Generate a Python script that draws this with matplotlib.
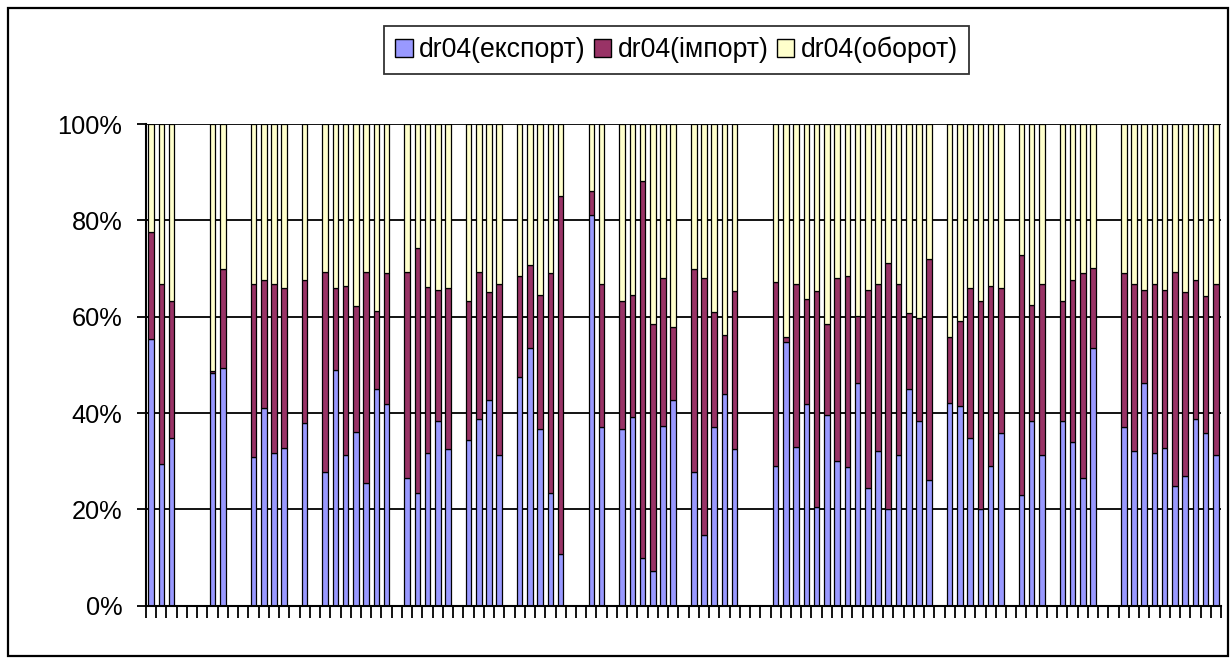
import numpy as np
import matplotlib
matplotlib.use("Agg")
import matplotlib.pyplot as plt
from matplotlib.patches import Rectangle

N = None
# share (%) per category; None = category without data (105 categories)
export_pct = [55.3, 29.5, 34.9, N, N, N, 48.4, 49.3, N, N,
              30.9, 41.0, 31.8, 32.7, N, 37.9, N, 27.8, 48.9, 31.3,
              36.1, 25.5, 44.9, 41.9, N, 26.6, 23.5, 31.8, 38.3, 32.5,
              N, 34.4, 38.8, 42.7, 31.3, N, 47.5, 53.6, 36.6, 23.5,
              10.7, N, N, 81.1, 37.2, N, 36.7, 39.2, 10.0, 7.3,
              37.4, 42.7, N, 27.8, 14.7, 37.0, 43.9, 32.5, N, N,
              N, 29.1, 54.8, 33.0, 41.9, 20.4, 39.6, 30.0, 28.7, 46.2,
              24.4, 32.2, 20.1, 31.3, 44.9, 38.4, 26.1, N, 42.1, 41.5,
              34.9, 20.1, 28.9, 35.8, N, 23.0, 38.3, 31.3, N, 38.3,
              34.0, 26.6, 53.6, N, N, 37.0, 32.2, 46.3, 31.8, 32.7,
              24.8, 27.0, 38.8, 35.8, 31.3]
import_pct = [22.3, 37.3, 28.4, N, N, N, 0.3, 20.5, N, N,
              35.9, 26.6, 35.0, 33.2, N, 29.7, N, 41.5, 17.0, 35.1,
              26.2, 43.8, 16.3, 27.1, N, 42.7, 50.8, 34.4, 27.2, 33.4,
              N, 28.9, 30.5, 22.4, 35.5, N, 21.0, 17.1, 28.0, 45.5,
              74.4, N, N, 5.0, 29.6, N, 26.6, 25.4, 78.2, 51.1,
              30.7, 15.2, N, 42.0, 53.4, 24.0, 12.3, 32.9, N, N,
              N, 38.0, 1.0, 33.8, 21.8, 45.0, 18.8, 38.1, 39.8, 13.9,
              41.1, 34.6, 51.1, 35.5, 15.8, 21.3, 45.9, N, 13.7, 17.5,
              31.0, 43.2, 37.5, 30.1, N, 49.8, 24.1, 35.5, N, 25.0,
              33.6, 42.4, 16.6, N, N, 32.0, 34.6, 19.2, 35.0, 32.8,
              44.5, 38.1, 28.8, 28.4, 35.5]
turnover_pct = [22.4, 33.2, 36.7, N, N, N, 51.3, 30.2, N, N,
                33.2, 32.4, 33.2, 34.1, N, 32.4, N, 30.7, 34.1, 33.6,
                37.7, 30.7, 38.8, 31.0, N, 30.7, 25.7, 33.8, 34.5, 34.1,
                N, 36.7, 30.7, 34.9, 33.2, N, 31.5, 29.3, 35.4, 31.0,
                14.9, N, N, 13.9, 33.2, N, 36.7, 35.4, 11.8, 41.6,
                31.9, 42.1, N, 30.2, 31.9, 39.0, 43.8, 34.6, N, N,
                N, 32.9, 44.2, 33.2, 36.3, 34.6, 41.6, 31.9, 31.5, 39.9,
                34.5, 33.2, 28.8, 33.2, 39.3, 40.3, 28.0, N, 44.2, 41.0,
                34.1, 36.7, 33.6, 34.1, N, 27.2, 37.6, 33.2, N, 36.7,
                32.4, 31.0, 29.8, N, N, 31.0, 33.2, 34.5, 33.2, 34.5,
                30.7, 34.9, 32.4, 35.8, 33.2]
series_names = ["dr04(експорт)", "dr04(імпорт)", "dr04(оборот)"]
series_colors = ["#9999FF", "#993366", "#FFFFCC"]
y_ticks = [0, 20, 40, 60, 80, 100]
y_labels = ["0%", "20%", "40%", "60%", "80%", "100%"]

plt.rcParams['font.family'] = ['Liberation Sans', 'DejaVu Sans']

W, H = 1231, 663
fig = plt.figure(figsize=(W / 100, H / 100), dpi=100)
ax_l, ax_r, ax_t, ax_b = 146, 1221, 124, 605.7
ax = fig.add_axes([ax_l / W, 1 - ax_b / H, (ax_r - ax_l) / W, (ax_b - ax_t) / H])

n = len(export_pct)
x = np.arange(n) + 0.5
exp_arr = np.array([np.nan if v is None else v for v in export_pct], dtype=float)
imp_arr = np.array([np.nan if v is None else v for v in import_pct], dtype=float)
tur_arr = np.array([np.nan if v is None else v for v in turnover_pct], dtype=float)
tot = exp_arr + imp_arr + tur_arr
mask = ~np.isnan(tot)
e = exp_arr[mask] / tot[mask] * 100
i = imp_arr[mask] / tot[mask] * 100
t = tur_arr[mask] / tot[mask] * 100
xs = x[mask]

# gridlines behind bars
for yv in y_ticks[1:]:
    ax.axhline(yv, color="black", lw=1.3, zorder=0)

bw = 0.54
ax.bar(xs, e, width=bw, color=series_colors[0], edgecolor="black", lw=0.9, label=series_names[0], zorder=2)
ax.bar(xs, i, width=bw, bottom=e, color=series_colors[1], edgecolor="black", lw=0.9, label=series_names[1], zorder=2)
ax.bar(xs, t, width=bw, bottom=e + i, color=series_colors[2], edgecolor="black", lw=0.9, label=series_names[2], zorder=2)

ax.set_xlim(0, n)
ax.set_ylim(0, 100)
ax.set_xticks(np.arange(n + 1))
ax.set_xticklabels([])
ax.set_yticks(y_ticks)
ax.set_yticklabels(y_labels, fontsize=18.3)
ax.tick_params(axis="x", direction="out", length=8.6, width=1.3, color="black")
ax.tick_params(axis="y", direction="out", length=6.5, width=1.3, color="black", pad=10.5)
for s in ["top", "right"]:
    ax.spines[s].set_visible(False)
for s in ["left", "bottom"]:
    ax.spines[s].set_linewidth(1.5)
ax.set_facecolor("white")

leg = fig.legend(loc="center", bbox_to_anchor=(676.5 / W, 1 - 50 / H), ncol=3,
                 fontsize=19.2, frameon=True, fancybox=False, edgecolor="black",
                 handlelength=0.65, handleheight=0.65, handletextpad=0.25,
                 columnspacing=0.3, borderpad=0.42, borderaxespad=0)
leg.get_frame().set_linewidth(1.3)
for h in leg.legend_handles:
    h.set_linewidth(1.0)

# outer chart frame
fig.patches.append(Rectangle((8 / W, 1 - 656 / H), (1228 - 8) / W, (656 - 8) / H,
                             transform=fig.transFigure, fill=False, edgecolor="black", lw=1.6))

fig.savefig("out.png", dpi=100)
